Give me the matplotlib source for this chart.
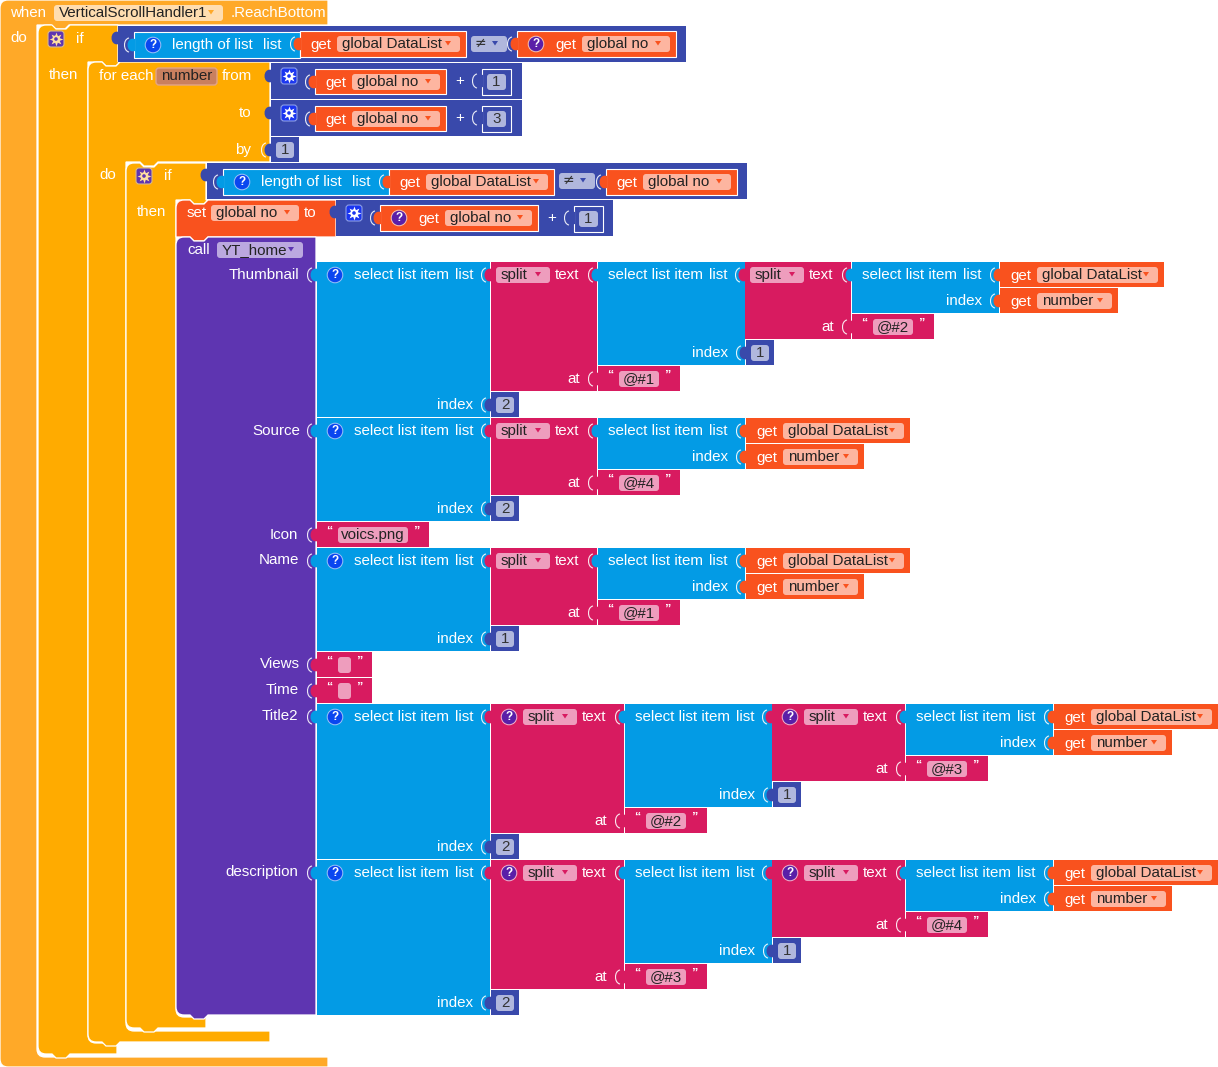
import matplotlib
matplotlib.use('Agg')
import matplotlib.pyplot as plt
from matplotlib.patches import Rectangle, FancyBboxPatch, Circle, PathPatch, Polygon
from matplotlib.path import Path

# block text
handler_name = 'VerticalScrollHandler1'
event_name = '.ReachBottom'
procedure_name = 'YT_home'
loop_var = 'number'
list_var = 'global DataList'
no_var = 'global no'
param_names = ['Thumbnail', 'Source', 'Icon', 'Name', 'Views', 'Time', 'Title2', 'description']
range_steps = ['1', '3']
loop_by = '1'
set_step = '1'
separators = ['@#2', '@#1', '@#4', '@#1', '@#3', '@#2', '@#4', '@#3']
icon_file = 'voics.png'

ORANGE_EVENT = '#FFA928'
AMBER = '#FFAB00'
DARK = '#3949AB'
BLUE = '#039BE5'
CRIMSON = '#D81B60'
RED = '#F9521E'
PURPLE = '#5E35B1'
FONT = 'Liberation Sans'
FS = 10.9

fig = plt.figure(figsize=(12.18, 10.67), dpi=100)
ax = fig.add_axes([0, 0, 1, 1])
ax.set_xlim(0, 1218)
ax.set_ylim(1067, 0)
ax.axis('off')


def label(x, y, s, color='white', ha='left', size=FS, **kw):
    ax.text(x, y, s, color=color, ha=ha, va='center', fontsize=size, family=FONT, **kw)


def rect(x0, y0, x1, y1, color, edge=False):
    ax.add_patch(Rectangle((x0, y0), x1 - x0, y1 - y0, facecolor=color,
                           edgecolor='white' if edge else 'none', linewidth=0.8))


def pill(x0, y0, x1, y1, color, edge='none', lw=0):
    ax.add_patch(FancyBboxPatch((x0 + 3, y0 + 3), x1 - x0 - 6, y1 - y0 - 6,
                                boxstyle='round,pad=3', facecolor=color, edgecolor=edge, linewidth=lw))


def arrow(x, y, color):
    ax.add_patch(Polygon([(x - 3, y - 2), (x + 3, y - 2), (x, y + 2.5)], facecolor=color, edgecolor='none'))


def dropdown(x0, y0, x1, s, fill, arrow_color):
    pill(x0, y0, x1, y0 + 16, fill)
    label(x0 + 5, y0 + 8, s, color='#222222')
    arrow(x1 - 12, y0 + 7, arrow_color)


def tab(x, y, color, bracket=True):
    ax.add_patch(PathPatch(Path([(x + 1, y - 6), (x - 9, y - 9), (x - 9, y + 9), (x + 1, y + 6)],
                                [Path.MOVETO, Path.CURVE4, Path.CURVE4, Path.CURVE4]),
                           facecolor=color, edgecolor='none'))
    if bracket:
        ax.add_patch(PathPatch(Path([(x - 5, y - 7), (x - 11, y - 6), (x - 11, y + 6), (x - 5, y + 7)],
                                    [Path.MOVETO, Path.CURVE4, Path.CURVE4, Path.CURVE4]),
                               facecolor='none', edgecolor='white', linewidth=0.8, alpha=0.9))


def help_icon(x, y, color='#0A46F0', ring='#9DC3F7'):
    ax.add_patch(Circle((x, y), 7.8, facecolor=color, edgecolor=ring, linewidth=0.7))
    label(x, y, '?', ha='center', size=8.5, fontweight='bold')


def gear_icon(x, y, bg='#1A35F0', fg='white', ring='#8C9EE8'):
    ax.add_patch(FancyBboxPatch((x - 5, y - 5), 10, 10, boxstyle='round,pad=3',
                                facecolor=bg, edgecolor=ring, linewidth=0.8))
    ax.plot([x], [y], marker=(8, 1, 0), ms=10, color=fg, mew=0, zorder=3)
    ax.add_patch(Circle((x, y), 3.6, facecolor=fg, edgecolor='none', zorder=3))
    ax.add_patch(Circle((x, y), 1.8, facecolor=bg, edgecolor='none', zorder=3))


def c_block(x0, y0, x_head, y_head, x_in, y_bar, y_bot, x_bar, color, child=True):
    # statement block with a cavity, outline runs clockwise from the top left
    r = 8
    pts = [(x0 + r, y0)]
    if child:
        pts += [(x0 + 14, y0), (x0 + 18, y0 + 4), (x0 + 28, y0 + 4), (x0 + 32, y0)]
    pts += [(x_head, y0), (x_head, y_head), (x_in + 32, y_head), (x_in + 28, y_head + 4),
            (x_in + 18, y_head + 4), (x_in + 14, y_head), (x_in, y_head), (x_in, y_bar - r)]
    codes = [Path.MOVETO] + [Path.LINETO] * (len(pts) - 1)
    pts += [(x_in, y_bar), (x_in + r, y_bar)]
    codes += [Path.CURVE3, Path.CURVE3]
    pts += [(x_bar, y_bar), (x_bar, y_bot)]
    codes += [Path.LINETO] * 2
    if child:
        pts += [(x0 + 32, y_bot), (x0 + 28, y_bot + 4), (x0 + 18, y_bot + 4), (x0 + 14, y_bot)]
        codes += [Path.LINETO] * 4
    pts += [(x0 + r, y_bot)]
    codes += [Path.LINETO]
    pts += [(x0, y_bot), (x0, y_bot - r)]
    codes += [Path.CURVE3, Path.CURVE3]
    pts += [(x0, y0 + r)]
    codes += [Path.LINETO]
    pts += [(x0, y0), (x0 + r, y0)]
    codes += [Path.CURVE3, Path.CURVE3]
    ax.add_patch(PathPatch(Path(pts, codes), facecolor=color, edgecolor='white', linewidth=0.9))


def stmt_block(x0, y0, x1, y1, color, round_bottom=False):
    r = 8
    pts = [(x0 + r, y0), (x0 + 14, y0), (x0 + 18, y0 + 4), (x0 + 28, y0 + 4), (x0 + 32, y0),
           (x1, y0), (x1, y1), (x0 + 32, y1), (x0 + 28, y1 + 4), (x0 + 18, y1 + 4), (x0 + 14, y1)]
    codes = [Path.MOVETO] + [Path.LINETO] * 10
    if round_bottom:
        pts += [(x0 + r, y1), (x0, y1), (x0, y1 - r)]
        codes += [Path.LINETO, Path.CURVE3, Path.CURVE3]
    else:
        pts += [(x0, y1)]
        codes += [Path.LINETO]
    pts += [(x0, y0 + r), (x0, y0), (x0 + r, y0)]
    codes += [Path.LINETO, Path.CURVE3, Path.CURVE3]
    ax.add_patch(PathPatch(Path(pts, codes), facecolor=color, edgecolor='white', linewidth=0.9))


def get_block(x0, y0, x1, name, icon=False, edge=False, h=26):
    rect(x0, y0, x1, y0 + h, RED, edge=edge)
    tab(x0, y0 + 13, RED)
    dx = 0
    if icon:
        help_icon(x0 + 19, y0 + 13, color='#5A1FA8', ring='#F5C6B4')
        dx = 28
    label(x0 + 10 + dx, y0 + 14, 'get')
    dropdown(x0 + 37 + dx, y0 + 5, x1 - 6, name, '#FDB5A0', RED)


def number_block(x0, y0, s):
    rect(x0, y0, x0 + 28, y0 + 25, DARK)
    tab(x0, y0 + 13, DARK)
    pill(x0 + 5, y0 + 5, x0 + 23, y0 + 21, '#B0B7DD')
    label(x0 + 14, y0 + 13, s, color='#333333', ha='center')


def plus_block(x0, y0, s):
    # the boxed number right of a "+"
    label(x0 - 22, y0 + 12, '+', ha='center')
    rect(x0, y0, x0 + 29, y0 + 26, DARK, edge=True)
    tab(x0, y0 + 12, DARK)
    pill(x0 + 5, y0 + 5, x0 + 24, y0 + 21, '#B0B7DD')
    label(x0 + 14.5, y0 + 13, s, color='#333333', ha='center')


def string_block(x0, y0, x1, s=''):
    rect(x0, y0, x1, y0 + 25, CRIMSON)
    tab(x0, y0 + 13, CRIMSON)
    label(x0 + 12, y0 + 10, '\u201c', ha='center', size=9, fontweight='bold')
    pill(x0 + 21, y0 + 5, x1 - 21, y0 + 21, '#EE9DBD')
    label((x0 + x1) / 2, y0 + 13, s, color='#222222', ha='center')
    label(x1 - 13, y0 + 10, '\u201d', ha='center', size=9, fontweight='bold')


def length_row(x0, y0):
    rect(x0, y0, x0 + 166, y0 + 26, BLUE, edge=True)
    tab(x0, y0 + 13, BLUE)
    help_icon(x0 + 19, y0 + 13)
    label(x0 + 38, y0 + 13, 'length of list')
    label(x0 + 129, y0 + 13, 'list')


def neq_pill(x0, y0):
    pill(x0, y0, x0 + 36, y0 + 16, '#B0B7DD')
    label(x0 + 9, y0 + 7, '\u2260', color='#333333', ha='center', family_override=None) if False else None
    ax.text(x0 + 9, y0 + 7, '\u2260', color='#333333', ha='center', va='center', fontsize=10, family='DejaVu Sans')
    arrow(x0 + 24, y0 + 7, DARK)


def select_block(x0, y0, x1, y1, y_index, icon=False):
    rect(x0, y0, x1, y1, BLUE)
    tab(x0, y0 + 13, BLUE)
    if icon:
        help_icon(x0 + 18, y0 + 13)
        dx = 27
    else:
        dx = 0
    label(x0 + 10 + dx, y0 + 13, 'select list item')
    label(x0 + 111 + dx, y0 + 13, 'list')
    label(x1 - 17, y_index, 'index', ha='right')


def split_block(x0, y0, x1, y1, y_at, icon=False):
    rect(x0, y0, x1, y1, CRIMSON)
    tab(x0, y0 + 13, CRIMSON)
    dx = 0
    if icon:
        help_icon(x0 + 18, y0 + 13, color='#5A1FA8', ring='#F2B6CE')
        dx = 27
    dropdown(x0 + 5 + dx, y0 + 5, x0 + 59 + dx, 'split', '#EE9DBD', CRIMSON)
    label(x0 + 64 + dx, y0 + 13, 'text')
    label(x1 - 17, y_at, 'at', ha='right')


def short_chain(y0, sep, idx):
    # Source and Name rows: one select, one split, one inner select
    select_block(317, y0, 490, y0 + 103, y0 + 91, icon=True)
    split_block(491, y0, 597, y0 + 77, y0 + 65)
    number_block(491, y0 + 78, idx)
    select_block(598, y0, 745, y0 + 51, y0 + 39)
    get_block(746, y0, 910, list_var, h=25)
    get_block(746, y0 + 26, 864, 'number', h=25)
    string_block(598, y0 + 52, 680, sep)


def long_chain(y0, seps, idxs, split_icon, w):
    # Thumbnail, Title2 and description rows: two nested select + split pairs
    select_block(317, y0, 490, y0 + 155, y0 + 143, icon=True)
    split_block(491, y0, 491 + w, y0 + 129, y0 + 117, icon=split_icon)
    number_block(491, y0 + 130, idxs[0])
    x = 492 + w
    select_block(x, y0, x + 147, y0 + 103, y0 + 91)
    split_block(x + 147, y0, x + 147 + w, y0 + 77, y0 + 65, icon=split_icon)
    number_block(x + 148, y0 + 78, idxs[1])
    string_block(x, y0 + 104, x + 82, seps[1])
    x2 = x + 148 + w
    select_block(x2, y0, x2 + 147, y0 + 51, y0 + 39)
    get_block(x2 + 148, y0, x2 + 312, list_var, h=25)
    get_block(x2 + 148, y0 + 26, x2 + 266, 'number', h=25)
    string_block(x2, y0 + 52, x2 + 82, seps[0])


# statement blocks, outermost first
c_block(0, 0, 328, 25, 37, 1057, 1067, 328, ORANGE_EVENT, child=False)
c_block(38, 25, 118, 62, 88, 1043, 1054, 117, AMBER)
c_block(88, 62, 270, 162, 126, 1031, 1042, 270, AMBER)
c_block(126, 163, 206, 200, 176, 1017, 1028, 206, AMBER)
stmt_block(176, 200, 336, 237, RED)
stmt_block(176, 237, 316, 1015, PURPLE, round_bottom=True)

# event header
label(10, 13, 'when')
dropdown(54, 5, 223, handler_name, '#FFDDB0', ORANGE_EVENT)
label(231, 13, event_name)
label(10, 38, 'do')

# first if
gear_icon(56, 39, bg='#5E35B1', fg='#FFE0A0', ring='#D9B98A')
label(76, 39, 'if')
label(49, 75, 'then')
rect(118, 26, 686, 62, DARK)
tab(118, 38, DARK, bracket=False)
length_row(134, 32)
get_block(300, 31, 466, list_var, edge=True)
neq_pill(471, 36)
get_block(517, 31, 676, no_var, icon=True, edge=True)

# for each header
label(99, 76, 'for each')
pill(156, 68, 217, 85, '#C9805F', edge='#E2A488', lw=1)
label(161, 76.5, loop_var, color='#222222')
label(222, 76, 'from')
label(251, 113, 'to', ha='right')
label(251, 150, 'by', ha='right')
for y0, step in zip([63, 100], range_steps):
    rect(271, y0, 522, y0 + 36, DARK)
    tab(271, y0 + 13, DARK, bracket=False)
    gear_icon(289, y0 + 13)
    get_block(315, y0 + 6, 446, no_var, edge=True, h=25)
    plus_block(482, y0 + 6, step)
number_block(271, 137, loop_by)
label(99, 175, 'do')

# second if
gear_icon(144, 176, bg='#5E35B1', fg='#FFE0A0', ring='#D9B98A')
label(164, 176, 'if')
label(137, 212, 'then')
rect(207, 163, 747, 199, DARK)
tab(207, 175, DARK, bracket=False)
length_row(223, 169)
get_block(389, 169, 554, list_var, edge=True)
neq_pill(559, 173)
get_block(606, 169, 737, no_var, edge=True)

# set global no
label(187, 213, 'set')
dropdown(211, 205, 299, no_var, '#FDB5A0', RED)
label(304, 213, 'to')
rect(336, 200, 613, 236, DARK)
tab(336, 212, DARK, bracket=False)
gear_icon(354, 213)
get_block(380, 205, 538, no_var, icon=True, edge=True)
plus_block(574, 206, set_step)

# procedure call
label(187, 250, 'call')
dropdown(217, 242, 303, procedure_name, '#BBA8E0', PURPLE)
for name, x, y in zip(param_names, [299, 300, 298, 299, 300, 299, 298, 298],
                      [275, 431, 535, 560, 664, 690, 716, 872]):
    label(x, y, name, ha='right')

long_chain(262, separators[:2], ['2', '1'], False, 106)
short_chain(418, separators[2], '2')
string_block(317, 522, 429, icon_file)
short_chain(548, separators[3], '1')
string_block(317, 652, 372)
string_block(317, 678, 372)
long_chain(704, separators[4:6], ['2', '1'], True, 133)
long_chain(860, separators[6:8], ['2', '1'], True, 133)

fig.savefig('out.png', dpi=100, facecolor='white')
